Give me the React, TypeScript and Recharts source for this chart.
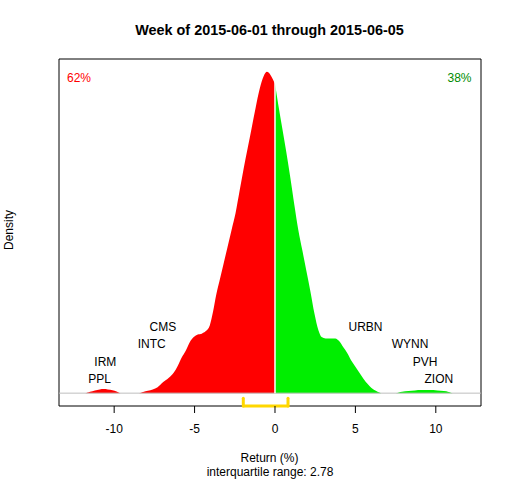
import React from "react";
import {
  ComposedChart,
  Area,
  Scatter,
  XAxis,
  YAxis,
  ReferenceLine,
  ReferenceArea,
} from "recharts";

// density of weekly returns
const returnGrid = [
  -13.4, -11.8, -11.5, -11.2, -10.9, -10.65, -10.4, -10.1, -9.85, -9.6, -8.45,
  -8.2, -7.9, -7.6, -7.3, -6.95, -6.6, -6.3, -6.05, -5.8, -5.55, -5.3, -5.05,
  -4.8, -4.55, -4.3, -4.05, -3.85, -3.65, -3.4, -3.2, -2.95, -2.7, -2.45, -2.2,
  -1.95, -1.7, -1.45, -1.2, -0.95, -0.7, -0.5, -0.3, -0.15, 0, 0.2, 0.45, 0.7,
  0.95, 1.2, 1.45, 1.7, 1.95, 2.2, 2.45, 2.7, 2.9, 3.15, 3.45, 3.75, 4.0, 4.25,
  4.5, 4.75, 5.0, 5.25, 5.5, 5.75, 6.0, 6.3, 6.6, 7.5, 7.9, 8.3, 8.7, 9.1, 9.6,
  10.1, 10.5, 10.8, 11.05, 12.8,
];
const densityValues = [
  0, 0, 0.0008, 0.0016, 0.0022, 0.0024, 0.0022, 0.0017, 0.001, 0, 0,
  0.0007, 0.0014, 0.0022, 0.0035, 0.0065, 0.009, 0.012, 0.016, 0.021, 0.025, 0.03, 0.033,
  0.0345, 0.035, 0.0365, 0.04, 0.048, 0.058, 0.068, 0.076, 0.086, 0.096, 0.106, 0.119,
  0.132, 0.144, 0.156, 0.168, 0.179, 0.1865, 0.189, 0.1875, 0.185, 0.182, 0.17, 0.156, 0.142,
  0.127, 0.111, 0.096, 0.084, 0.072, 0.06, 0.047, 0.037, 0.033, 0.0322, 0.0322, 0.0322, 0.0305, 0.027,
  0.0235, 0.019, 0.0155, 0.012, 0.0085, 0.0055, 0.003, 0.0012, 0, 0, 0.0008, 0.0013, 0.0016, 0.0018, 0.0018,
  0.0016, 0.0012, 0.0007, 0, 0,
];

// ticker labels
const tickerNames = ["PPL", "IRM", "INTC", "CMS", "URBN", "WYNN", "PVH", "ZION"];
const tickerReturns = [-10.91, -10.55, -7.66, -6.97, 5.63, 8.4, 9.33, 10.19];
const tickerHeights = [0.0086, 0.0184, 0.0288, 0.039, 0.039, 0.0288, 0.0184, 0.0086];

const xTicks = [-10, -5, 0, 5, 10];
const quartiles = [-1.97, 0.81];
const shareDown = "62%";
const shareUp = "38%";

const xDomain = [-13.43, 12.81];
const yMax = 0.189;
const yDomain = [-0.04 * yMax, 1.04 * yMax];

const rows = returnGrid.map((x, i) => ({
  x,
  neg: x <= 0 ? densityValues[i] : null,
  pos: x >= 0 ? densityValues[i] : null,
}));

const labelRows = tickerNames.map((name, i) => ({
  name,
  x: tickerReturns[i],
  y: tickerHeights[i],
}));

const FONT = "'Liberation Sans', Arial, sans-serif";

const TickerLabel = (props: any) => (
  <text
    x={props.cx}
    y={props.cy}
    dy={4.3}
    textAnchor="middle"
    fontSize={12}
    fontFamily={FONT}
    fill="#000"
  >
    {props.payload.name}
  </text>
);

export default function App() {
  return (
    <div style={{ position: "absolute", left: 0, top: 0, width: 512, height: 480, background: "#fff" }}>
      <ComposedChart
        width={512}
        height={480}
        data={rows}
        margin={{ top: 59, right: 31, bottom: 34, left: 59 }}
      >
        <XAxis
          dataKey="x"
          type="number"
          domain={xDomain}
          allowDataOverflow
          ticks={xTicks}
          height={40}
          axisLine={false}
          tickLine={{ stroke: "#000" }}
          tickSize={7}
          tickMargin={11}
          tick={{ fill: "#000", fontSize: 12, fontFamily: FONT }}
        />
        <YAxis type="number" domain={yDomain} allowDataOverflow hide />
        <Area
          dataKey="neg"
          type="monotone"
          baseValue={0}
          fill="#FF0000"
          fillOpacity={1}
          stroke="none"
          isAnimationActive={false}
        />
        <Area
          dataKey="pos"
          type="monotone"
          baseValue={0}
          fill="#00EE00"
          fillOpacity={1}
          stroke="none"
          isAnimationActive={false}
        />
        <ReferenceLine y={0} stroke="#BEBEBE" strokeWidth={1} />
        <ReferenceLine
          segment={[{ x: 0, y: 0 }, { x: 0, y: 0.183 }]}
          stroke="#FFFFFF"
          strokeWidth={1.5}
        />
        <ReferenceArea
          x1={xDomain[0]}
          x2={xDomain[1]}
          y1={yDomain[0]}
          y2={yDomain[1]}
          fill="none"
          stroke="#000"
          strokeWidth={1}
          ifOverflow="visible"
        />
        <ReferenceLine
          segment={[{ x: quartiles[0], y: yDomain[0] }, { x: quartiles[1], y: yDomain[0] }]}
          stroke="#FFD700"
          strokeWidth={3}
          strokeLinecap="round"
          ifOverflow="visible"
        />
        <ReferenceLine
          segment={[{ x: quartiles[0], y: yDomain[0] }, { x: quartiles[0], y: -0.003 }]}
          stroke="#FFD700"
          strokeWidth={3}
          strokeLinecap="round"
          ifOverflow="visible"
        />
        <ReferenceLine
          segment={[{ x: quartiles[1], y: yDomain[0] }, { x: quartiles[1], y: -0.003 }]}
          stroke="#FFD700"
          strokeWidth={3}
          strokeLinecap="round"
          ifOverflow="visible"
        />
        <Scatter data={labelRows} dataKey="y" shape={TickerLabel} isAnimationActive={false} />
      </ComposedChart>
      <svg
        width={512}
        height={480}
        style={{ position: "absolute", left: 0, top: 0, pointerEvents: "none" }}
        fontFamily={FONT}
      >
        <text x={269.5} y={35.3} textAnchor="middle" fontSize={14.4} fontWeight="bold" fill="#000">
          Week of 2015-06-01 through 2015-06-05
        </text>
        <text x={67} y={82.3} fontSize={12} fill="#FF0000">
          {shareDown}
        </text>
        <text x={471.5} y={82.3} textAnchor="end" fontSize={12} fill="#008B00">
          {shareUp}
        </text>
        <text x={269.5} y={461.5} textAnchor="middle" fontSize={12} fill="#000">
          Return (%)
        </text>
        <text x={270} y={476} textAnchor="middle" fontSize={12} fill="#000">
          interquartile range: 2.78
        </text>
        <text
          x={13}
          y={230}
          textAnchor="middle"
          fontSize={12}
          fill="#000"
          transform="rotate(-90 13 230)"
        >
          Density
        </text>
      </svg>
    </div>
  );
}
